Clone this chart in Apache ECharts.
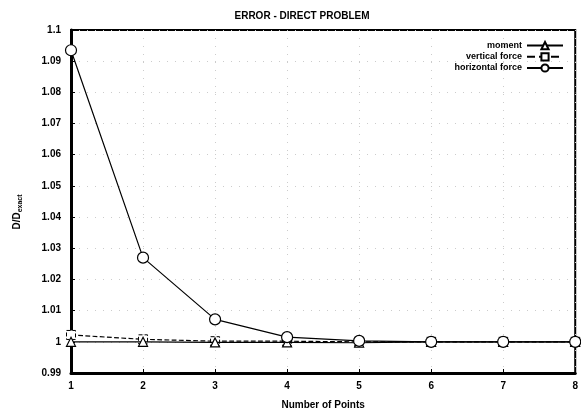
<!DOCTYPE html>
<html>
<head>
<meta charset="utf-8">
<script src="https://cdn.jsdelivr.net/npm/echarts@6/dist/echarts.min.js"></script>
<style>
  html, body { margin: 0; padding: 0; background: #fff; }
  #chart { width: 581px; height: 415px; }
</style>
</head>
<body>
<div id="chart"></div>
<script>
// data
const categories = ["1", "2", "3", "4", "5", "6", "7", "8"];
const moment = [1.0, 1.0, 0.9998, 0.9998, 0.9997, 1.0, 1.0, 1.0];
const verticalForce = [1.0022, 1.0008, 1.0002, 1.0002, 1.0, 1.0, 1.0, 1.0];
const horizontalForce = [1.0935, 1.027, 1.0072, 1.0015, 1.0003, 1.0, 1.0, 1.0];

const chart = echarts.init(document.getElementById("chart"));
const font = "Liberation Sans";

const option = {
  backgroundColor: "#fff",
  animation: false,
  title: {
    text: "ERROR - DIRECT PROBLEM",
    left: 297,
    top: 6,
    textAlign: "center",
    textStyle: { fontFamily: font, fontSize: 10, fontWeight: "bold", color: "#000" }
  },
  // y axis title, placed by hand
  graphic: [{
    type: "text",
    x: 17,
    y: 212,
    rotation: Math.PI / 2,
    style: {
      text: "{a|D/D}{b|exact}",
      align: "center",
      verticalAlign: "middle",
      rich: {
        a: { fontFamily: font, fontSize: 10, fontWeight: "bold", fill: "#000" },
        b: { fontFamily: font, fontSize: 7, fontWeight: "bold", fill: "#000", padding: [6, 0, 0, 0] }
      }
    }
  }],
  legend: {
    right: 12,
    top: 36,
    orient: "vertical",
    align: "right",
    itemGap: 2,
    itemWidth: 36,
    itemHeight: 9,
    textStyle: { fontFamily: font, fontSize: 9, fontWeight: "bold", color: "#000" },
    data: ["moment", "vertical force", "horizontal force"]
  },
  grid: {
    left: 71,
    right: 3,
    top: 30,
    bottom: 39,
    show: true,
    borderColor: "#000",
    borderWidth: 2
  },
  xAxis: {
    type: "category",
    data: categories,
    boundaryGap: false,
    name: "Number of Points",
    nameLocation: "middle",
    nameGap: 27,
    nameTextStyle: { fontFamily: font, fontSize: 10, fontWeight: "bold", color: "#000" },
    axisLine: { lineStyle: { color: "#000", width: 3 } },
    axisTick: { inside: true, length: 4, lineStyle: { color: "#000" } },
    axisLabel: { fontFamily: font, fontSize: 10, fontWeight: "bold", color: "#000", margin: 8 },
    splitLine: { show: true, lineStyle: { color: "#ccc", type: [1, 7], width: 1 } }
  },
  yAxis: {
    type: "value",
    min: 0.99,
    max: 1.1,
    interval: 0.01,
    axisLine: { show: true, lineStyle: { color: "#000", width: 3 } },
    axisTick: { show: true, inside: true, length: 4, lineStyle: { color: "#000" } },
    axisLabel: {
      fontFamily: font, fontSize: 10, fontWeight: "bold", color: "#000", margin: 10,
      formatter: v => String(+v.toFixed(2))
    },
    splitLine: { show: true, lineStyle: { color: "#ccc", type: [1, 7], width: 1 } }
  },
  series: [
    {
      name: "moment",
      type: "line",
      data: moment,
      symbol: "triangle",
      symbolSize: 9,
      itemStyle: { color: "#fff", borderColor: "#000", borderWidth: 1.2 },
      lineStyle: { color: "#000", width: 1.2 },
      z: 3
    },
    {
      name: "vertical force",
      type: "line",
      data: verticalForce,
      symbol: "rect",
      symbolSize: 9,
      itemStyle: { color: "#fff", borderColor: "#000", borderWidth: 1, borderType: "dashed" },
      lineStyle: { color: "#000", width: 1.2, type: "dashed" },
      z: 2
    },
    {
      name: "horizontal force",
      type: "line",
      data: horizontalForce,
      symbol: "circle",
      symbolSize: 11,
      itemStyle: { color: "#fff", borderColor: "#000", borderWidth: 1.2 },
      lineStyle: { color: "#000", width: 1.2 },
      z: 4
    }
  ]
};

chart.setOption(option);
</script>
</body>
</html>
